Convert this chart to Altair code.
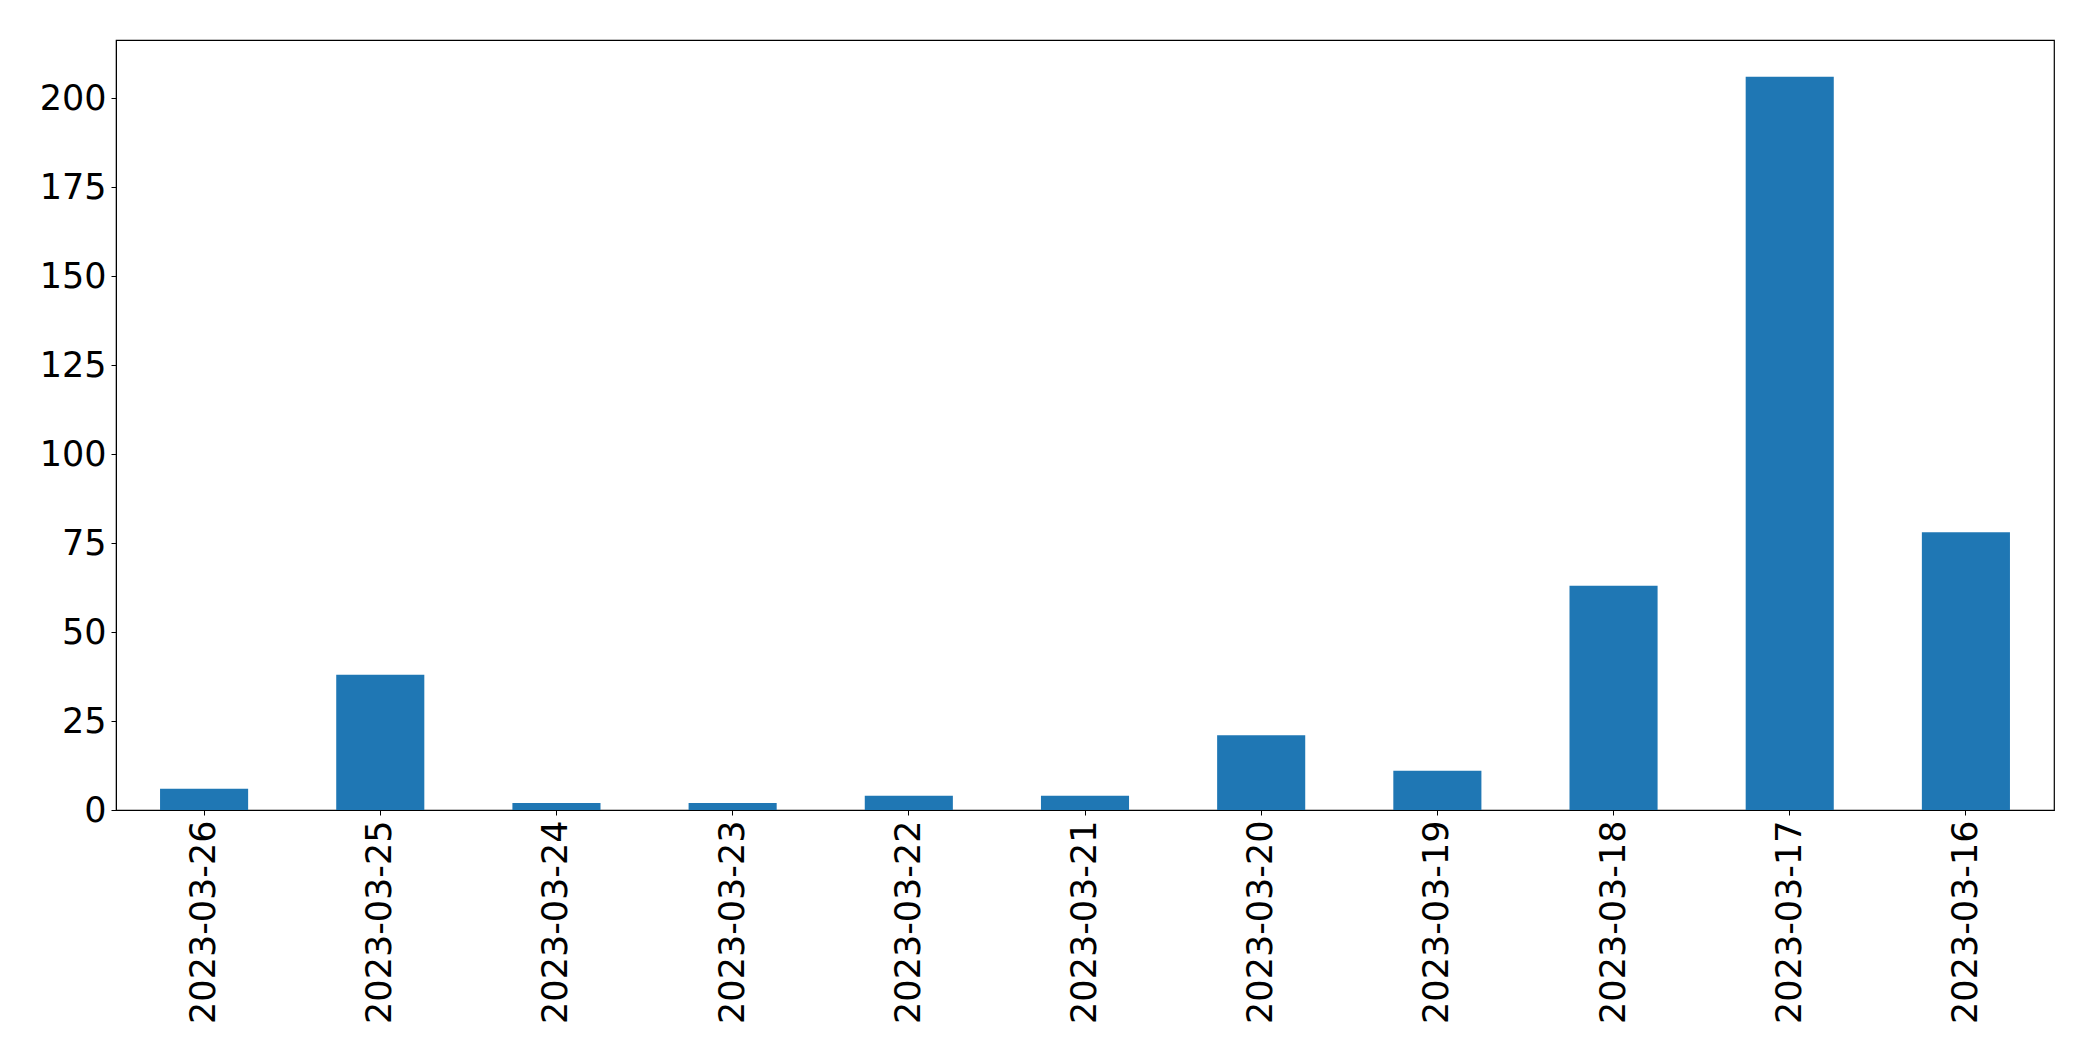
import altair as alt
import pandas as pd

dates = ["2023-03-26", "2023-03-25", "2023-03-24", "2023-03-23", "2023-03-22",
         "2023-03-21", "2023-03-20", "2023-03-19", "2023-03-18", "2023-03-17",
         "2023-03-16"]
counts = [6, 38, 2, 2, 4, 4, 21, 11, 63, 206, 78]
y_ticks = [0, 25, 50, 75, 100, 125, 150, 175, 200]

df = pd.DataFrame({"date": dates, "count": counts})

chart = (
    alt.Chart(df)
    .mark_bar(color="#1f77b4")
    .encode(
        x=alt.X("date:N", sort=dates, title=None,
                scale=alt.Scale(paddingInner=0.5, paddingOuter=0.25),
                axis=alt.Axis(labelAngle=270, labelFontSize=35, labelFont="DejaVu Sans",
                              labelColor="black", tickColor="black", domainColor="black",
                              tickSize=5, labelPadding=5, grid=False, labelLimit=0)),
        y=alt.Y("count:Q", title=None,
                scale=alt.Scale(domain=[0, 216.3], nice=False, zero=True),
                axis=alt.Axis(values=y_ticks, labelFontSize=35, labelFont="DejaVu Sans",
                              labelColor="black", tickColor="black", domainColor="black",
                              tickSize=5, labelPadding=5, grid=False)),
    )
    .properties(
        width=1938,
        height=770,
        autosize=alt.AutoSizeParams(type="none"),
        padding={"left": 108, "top": 32, "right": 30, "bottom": 240},
    )
    .configure(background="white")
    .configure_view(stroke="black", strokeWidth=1.2)
)

chart.save("out.html", embed_options={"renderer": "svg", "actions": False})
